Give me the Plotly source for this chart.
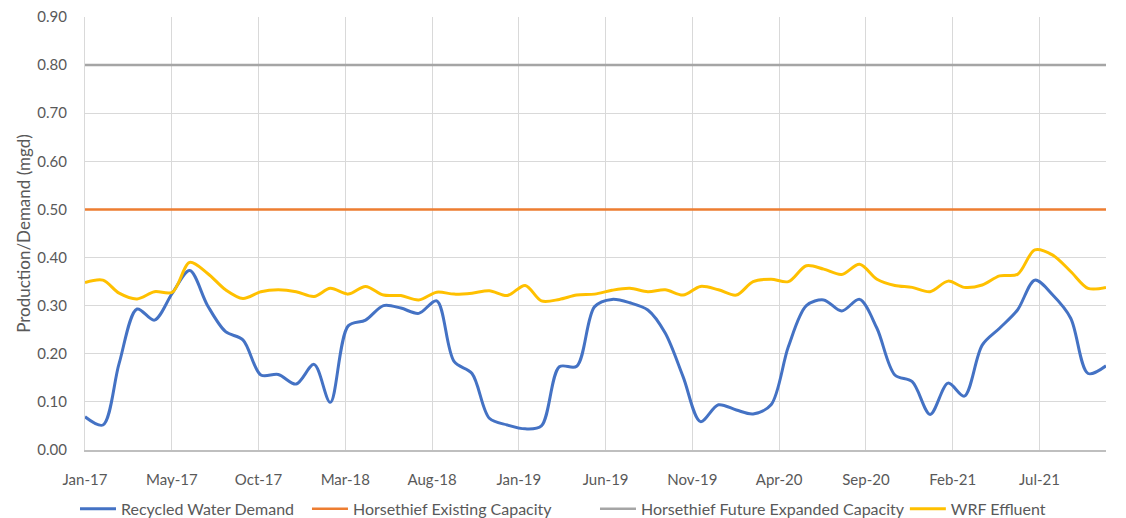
import pandas as pd
import plotly.graph_objects as go

# Monthly dates Jan-2017 .. Nov-2021
dates = pd.date_range("2017-01-01", "2021-11-01", freq="MS")

recycled_demand = [
    0.069, 0.052, 0.180, 0.293, 0.270, 0.326, 0.373, 0.300, 0.246, 0.229, 0.156, 0.157,  # 2017
    0.137, 0.178, 0.099, 0.258, 0.270, 0.300, 0.295, 0.284, 0.310, 0.184, 0.159, 0.066,  # 2018
    0.052, 0.044, 0.050, 0.173, 0.174, 0.298, 0.313, 0.306, 0.291, 0.243, 0.152, 0.059,  # 2019
    0.094, 0.083, 0.075, 0.094, 0.215, 0.300, 0.312, 0.289, 0.313, 0.253, 0.156, 0.142,  # 2020
    0.074, 0.139, 0.112, 0.218, 0.253, 0.291, 0.353, 0.322, 0.274, 0.159, 0.175,         # 2021
]

wrf_effluent = [
    0.348, 0.353, 0.326, 0.314, 0.329, 0.328, 0.390, 0.367, 0.333, 0.315, 0.329, 0.333,  # 2017
    0.329, 0.319, 0.336, 0.324, 0.340, 0.322, 0.321, 0.312, 0.328, 0.324, 0.326, 0.331,  # 2018
    0.321, 0.342, 0.310, 0.313, 0.322, 0.324, 0.332, 0.336, 0.329, 0.333, 0.322, 0.340,  # 2019
    0.333, 0.322, 0.350, 0.355, 0.350, 0.383, 0.376, 0.365, 0.386, 0.355, 0.342, 0.338,  # 2020
    0.329, 0.351, 0.338, 0.343, 0.362, 0.365, 0.416, 0.405, 0.371, 0.336, 0.338,         # 2021
]

existing_capacity_value = 0.50
future_capacity_value = 0.80
existing_capacity = [existing_capacity_value] * len(dates)
future_capacity = [future_capacity_value] * len(dates)

series_names = [
    "Recycled Water Demand",
    "Horsethief Existing Capacity",
    "Horsethief Future Expanded Capacity",
    "WRF Effluent",
]
y_title = "Production/Demand (mgd)"

font_family = "Lato, 'Open Sans', Arial, sans-serif"
text_color = "#595959"
grid_color = "#D9D9D9"

series_colors = ["#4472C4", "#ED7D31", "#A5A5A5", "#FFC000"]
series_values = [recycled_demand, existing_capacity, future_capacity, wrf_effluent]
series_smooth = [True, False, False, True]
legend_ids = ["legend", "legend2", "legend3", "legend4"]
legend_x = [-0.0098, 0.2174, 0.4995, 0.803]

fig = go.Figure()
for name, vals, col, smooth, lid in zip(series_names, series_values, series_colors,
                                        series_smooth, legend_ids):
    line = dict(color=col, width=3 if smooth else 2.5)
    if smooth:
        line.update(shape="spline", smoothing=0.9)
    fig.add_trace(go.Scatter(x=dates, y=vals, name=name, mode="lines", line=line, legend=lid))

legend_common = dict(orientation="h", xanchor="left", y=-0.136, yanchor="middle",
                     font=dict(size=16, color=text_color), itemwidth=36,
                     bgcolor="rgba(0,0,0,0)")
layout_legends = {lid: dict(x=lx, **legend_common) for lid, lx in zip(legend_ids, legend_x)}

fig.update_layout(
    width=1126, height=518,
    margin=dict(l=85, r=20, t=17, b=68, autoexpand=False),
    paper_bgcolor="white", plot_bgcolor="white",
    font=dict(family=font_family, size=15, color=text_color),
    showlegend=True,
    hovermode=False,
    **layout_legends,
)

fig.update_xaxes(
    type="date",
    range=[dates[0], dates[-1]],
    tick0="2017-01-01",
    dtick=150 * 86400000,
    tickformat="%b-%y",
    showgrid=True, gridcolor=grid_color, gridwidth=1,
    showline=True, linecolor="#BFBFBF", linewidth=1.5,
    ticks="", ticklen=0, ticklabelstandoff=15,
    tickfont=dict(size=15, color=text_color),
    zeroline=False, automargin=False,
)
fig.update_yaxes(
    range=[0, 0.9],
    dtick=0.1,
    tickformat=".2f",
    showgrid=True, gridcolor=grid_color, gridwidth=1,
    showline=True, linecolor=grid_color, linewidth=1,
    zeroline=False, automargin=False,
    ticks="", ticklabelstandoff=14,
    tickfont=dict(size=15, color=text_color),
    title=dict(text=y_title, font=dict(size=17, color=text_color), standoff=2),
)

fig.write_html("out.html", config={"displayModeBar": False},
               post_script="document.body.style.margin='0';")
